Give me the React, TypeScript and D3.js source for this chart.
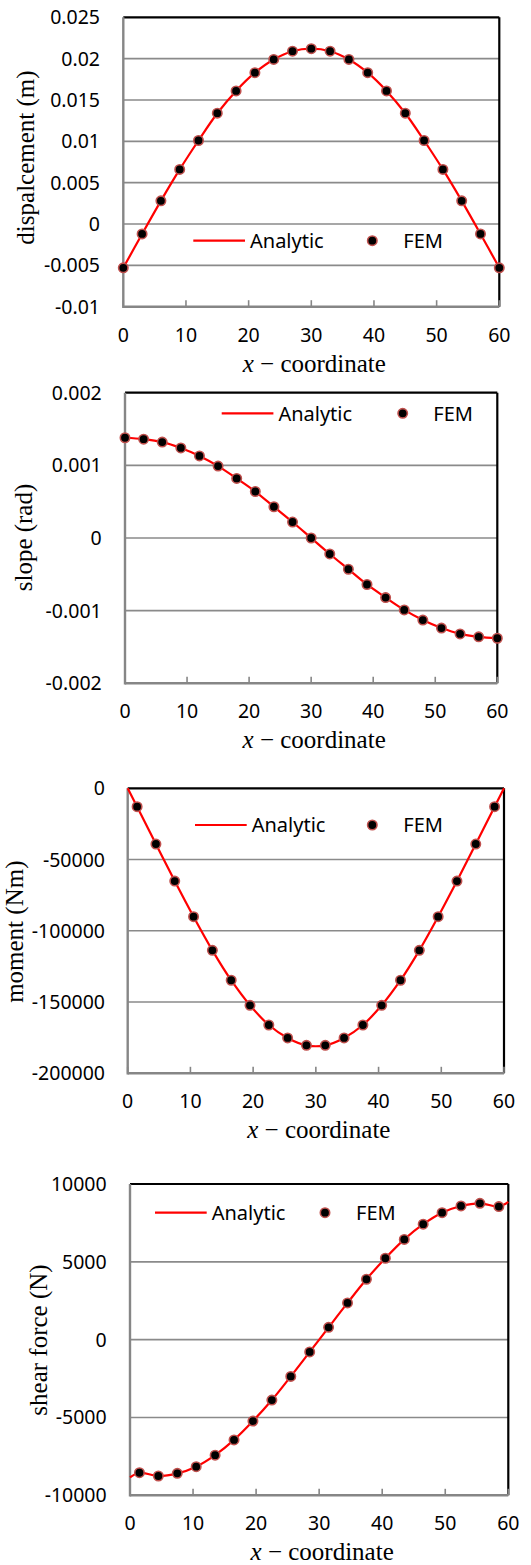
import React from "react";
import * as d3 from "d3";

// ---------- data ----------
const xTicks = [0, 10, 20, 30, 40, 50, 60];

// displacement (m)
const dispX = [0, 3, 6, 9, 12, 15, 18, 21, 24, 27, 30, 33, 36, 39, 42, 45, 48, 51, 54, 57, 60];
const dispFEM = [-0.0053, -0.0012, 0.0028, 0.0066, 0.0101, 0.0134, 0.0161, 0.0183, 0.0199, 0.0209, 0.0212,
  0.0209, 0.0199, 0.0183, 0.0161, 0.0134, 0.0101, 0.0066, 0.0028, -0.0012, -0.0053];
const dispAnalytic = dispFEM;
const dispTicks = [-0.01, -0.005, 0, 0.005, 0.01, 0.015, 0.02, 0.025];
const dispTickLabels = ["-0.01", "-0.005", "0", "0.005", "0.01", "0.015", "0.02", "0.025"];

// slope (rad)
const slopeX = dispX;
const slopeFEM = [0.00138, 0.00136, 0.00132, 0.00124, 0.00113, 0.00099, 0.00082, 0.00064, 0.00043, 0.00022, 0,
  -0.00022, -0.00043, -0.00064, -0.00082, -0.00099, -0.00113, -0.00124, -0.00132, -0.00136, -0.00138];
const slopeAnalytic = slopeFEM;
const slopeTicks = [-0.002, -0.001, 0, 0.001, 0.002];
const slopeTickLabels = ["-0.002", "-0.001", "0", "0.001", "0.002"];

// moment (Nm)
const momX = [1.5, 4.5, 7.5, 10.5, 13.5, 16.5, 19.5, 22.5, 25.5, 28.5, 31.5, 34.5, 37.5, 40.5, 43.5, 46.5, 49.5, 52.5, 55.5, 58.5];
const momFEM = [-12900, -39100, -65100, -90100, -113700, -134700, -152300, -166100, -175200, -180400,
  -180400, -175200, -166100, -152300, -134700, -113700, -90100, -65100, -39100, -12900];
const momAnalyticX = [0, 1.5, 4.5, 7.5, 10.5, 13.5, 16.5, 19.5, 22.5, 25.5, 28.5, 31.5, 34.5, 37.5, 40.5, 43.5, 46.5, 49.5, 52.5, 55.5, 58.5, 60];
const momAnalytic = [0, -12900, -39100, -65100, -90100, -113700, -134700, -152300, -166100, -175200, -180400,
  -180400, -175200, -166100, -152300, -134700, -113700, -90100, -65100, -39100, -12900, 0];
const momTicks = [-200000, -150000, -100000, -50000, 0];
const momTickLabels = ["-200000", "-150000", "-100000", "-50000", "0"];

// shear force (N)
const shearX = momX;
const shearFEM = [-8550, -8760, -8590, -8160, -7420, -6440, -5230, -3880, -2360, -790,
  790, 2360, 3880, 5230, 6440, 7420, 8160, 8590, 8760, 8550];
const shearAnalyticX = momAnalyticX;
const shearAnalytic = [-8850, -8550, -8760, -8590, -8160, -7420, -6440, -5230, -3880, -2360, -790,
  790, 2360, 3880, 5230, 6440, 7420, 8160, 8590, 8760, 8550, 8850];
const shearTicks = [-10000, -5000, 0, 5000, 10000];
const shearTickLabels = ["-10000", "-5000", "0", "5000", "10000"];

// ---------- layout ----------
const panels = [
  {
    yTitle: "dispalcement (m)", fx: dispX, fy: dispFEM, ax: dispX, ay: dispAnalytic,
    ticks: dispTicks, labels: dispTickLabels,
    left: 123.3, right: 499.3, top: 17.3, bottom: 306.7, labelRight: 100,
    titleX: 27.5, titleY: 157.5, legLineX: 193.3, legY: 240.7, legMarkX: 372.3, legFemX: 403.3,
  },
  {
    yTitle: "slope (rad)", fx: slopeX, fy: slopeFEM, ax: slopeX, ay: slopeAnalytic,
    ticks: slopeTicks, labels: slopeTickLabels,
    left: 125, right: 497.3, top: 392.7, bottom: 683.3, labelRight: 101.7,
    titleX: 26, titleY: 537.5, legLineX: 221.7, legY: 413.3, legMarkX: 402.7, legFemX: 433.3,
  },
  {
    yTitle: "moment (Nm)", fx: momX, fy: momFEM, ax: momAnalyticX, ay: momAnalytic,
    ticks: momTicks, labels: momTickLabels,
    left: 127.7, right: 504, top: 788.3, bottom: 1073.3, labelRight: 105,
    titleX: 17, titleY: 931.7, legLineX: 195, legY: 825, legMarkX: 372.3, legFemX: 403.3,
  },
  {
    yTitle: "shear force (N)", fx: shearX, fy: shearFEM, ax: shearAnalyticX, ay: shearAnalytic,
    ticks: shearTicks, labels: shearTickLabels,
    left: 130, right: 508.3, top: 1184, bottom: 1495.3, labelRight: 106.7,
    titleX: 41, titleY: 1340, legLineX: 155, legY: 1212.7, legMarkX: 325, legFemX: 356,
  },
];

const SANS = "'Noto Sans', 'Open Sans', sans-serif";
const SERIF = "'Liberation Serif', 'Times New Roman', serif";
const GRID = "#8a8a8a";
const AXIS = "#868686";
const MARK_STROKE = "#c0504d";

function Panel({ p }: { p: any }) {
  const x = d3.scaleLinear().domain([0, 60]).range([p.left, p.right]);
  const ymin = p.ticks[0];
  const ymax = p.ticks[p.ticks.length - 1];
  const y = d3.scaleLinear().domain([ymin, ymax]).range([p.bottom, p.top]);
  const pts: [number, number][] = p.ax.map((xv: number, i: number) => [xv, p.ay[i]]);
  const line = d3
    .line<[number, number]>()
    .x((d) => x(d[0]))
    .y((d) => y(d[1]))
    .curve(d3.curveCatmullRom.alpha(0.5));
  return (
    <g>
      {p.ticks.map((t: number, i: number) =>
        i === 0 ? null : (
          <line key={"g" + i} x1={p.left} x2={p.right} y1={y(t)} y2={y(t)} stroke={i === p.ticks.length - 1 ? "#000" : GRID} strokeWidth={i === p.ticks.length - 1 ? 2.2 : 1.6} />
        )
      )}
      <line x1={p.right} x2={p.right} y1={p.top} y2={p.bottom} stroke="#000" strokeWidth={2.2} />
      {xTicks.map((t) => (
        <line key={"xt" + t} x1={x(t)} x2={x(t)} y1={p.bottom} y2={p.bottom - 6.5} stroke={AXIS} strokeWidth={1.6} />
      ))}
      <line x1={p.left} x2={p.right} y1={p.bottom} y2={p.bottom} stroke={AXIS} strokeWidth={2.4} />
      <line x1={p.left} x2={p.left} y1={p.top} y2={p.bottom + 1.2} stroke={AXIS} strokeWidth={2.4} />
      {p.ticks.map((t: number, i: number) => (
        <text key={"yl" + i} x={p.labelRight} y={y(t)} dy="0.36em" textAnchor="end" fontFamily={SANS} fontSize={19.5} fill="#000">
          {p.labels[i]}
        </text>
      ))}
      {xTicks.map((t) => (
        <text key={"xl" + t} x={x(t)} y={p.bottom + 35} textAnchor="middle" fontFamily={SANS} fontSize={19.5} fill="#000">
          {t}
        </text>
      ))}
      <text x={(p.left + p.right) / 2 + 3} y={p.bottom + 65} textAnchor="middle" fontFamily={SERIF} fontSize={25} fill="#000">
        <tspan fontStyle="italic">x</tspan>
        <tspan> − coordinate</tspan>
      </text>
      <text transform={`translate(${p.titleX},${p.titleY}) rotate(-90)`} dy="0.25em" textAnchor="middle" fontFamily={SERIF} fontSize={25} fill="#000">
        {p.yTitle}
      </text>
      <path d={line(pts) || ""} fill="none" stroke="#ff0000" strokeWidth={2.2} />
      {p.fx.map((xv: number, i: number) => (
        <circle key={"m" + i} cx={x(xv)} cy={y(p.fy[i])} r={4.7} fill="#000" stroke={MARK_STROKE} strokeWidth={1.6} />
      ))}
      <line x1={p.legLineX} x2={p.legLineX + 51.7} y1={p.legY} y2={p.legY} stroke="#ff0000" strokeWidth={2.2} />
      <text x={p.legLineX + 56.7} y={p.legY} dy="0.36em" fontFamily={SANS} fontSize={20} fill="#000">Analytic</text>
      <circle cx={p.legMarkX} cy={p.legY} r={4.7} fill="#000" stroke={MARK_STROKE} strokeWidth={1.6} />
      <text x={p.legFemX} y={p.legY} dy="0.36em" fontFamily={SANS} fontSize={20} fill="#000">FEM</text>
    </g>
  );
}

export default function App() {
  return (
    <svg width={531} height={1565} style={{ position: "absolute", left: 0, top: 0, background: "#fff" }}>
      <rect x={0} y={0} width={531} height={1565} fill="#fff" />
      {panels.map((p, i) => (
        <Panel key={i} p={p} />
      ))}
    </svg>
  );
}
